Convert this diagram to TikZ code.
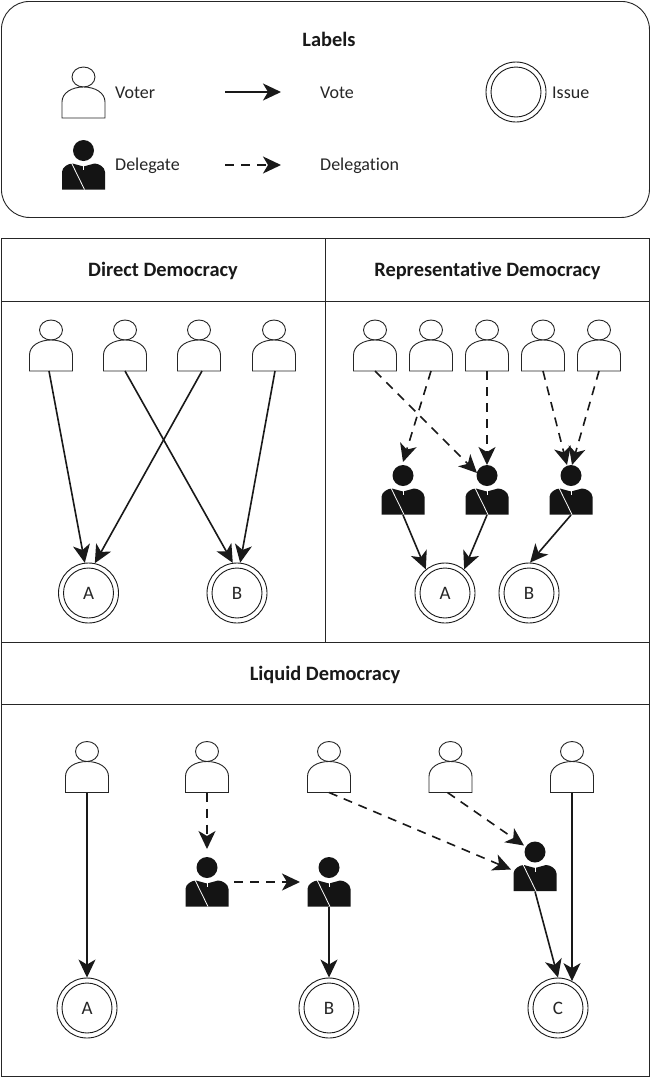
\documentclass[tikz,border=0pt]{standalone}
\usepackage{fontspec}
\setmainfont[Ligatures=NoCommon]{Carlito}
\usetikzlibrary{arrows.meta}
\tikzset{
  x=1pt,y=-1pt,
  frameline/.style={draw=black!85,line width=0.9pt},
  person/.style={minimum width=43pt,minimum height=51pt,inner sep=0pt,outer sep=0pt,anchor=north},
  leader/.style={person,minimum height=50pt},
  issue/.style={circle,draw=black!90,line width=0.9pt,minimum size=50pt,inner sep=0pt,
     font=\fontsize{19}{19}\selectfont,text=black!85},
  vote/.style={draw=black!90,line width=1.6pt,-{Stealth[length=18pt,width=17pt,inset=5pt]}},
  deleg/.style={vote,dash pattern=on 9pt off 7pt},
  txt/.style={font=\fontsize{18}{20}\selectfont,text=black!85,inner sep=0pt},
  head/.style={font=\bfseries\fontsize{20.4}{22}\selectfont,text=black!90,inner sep=0pt},
}
\newcommand{\voter}[3]{%
  \node[person] (#1) at (#2,#3) {};
  \begin{scope}[shift={(#2,#3)}]
    \draw[black!85,line width=0.9pt,fill=white] (0,10) ellipse [x radius=11.5,y radius=10];
    \draw[black!85,line width=0.9pt,fill=white] (-21.5,51) -- (-21.5,35) .. controls (-21.5,26) and (-12,20) .. (0,20)
      .. controls (12,20) and (21.5,26) .. (21.5,35) -- (21.5,51) -- cycle;
  \end{scope}}
\newcommand{\delegate}[3]{%
  \node[leader] (#1) at (#2,#3) {};
  \begin{scope}[shift={(#2,#3)}]
    \fill[black!92] (0,10.5) circle (10.5);
    \fill[black!92] (-21.5,49.5) -- (-21.5,32) .. controls (-21.5,27) and (-15,23.5) .. (-11,23.5)
      -- (0,26.5) -- (11,23.5) .. controls (15,23.5) and (21.5,27) .. (21.5,32) -- (21.5,49.5) -- cycle;
    \draw[white,line width=0.8pt] (-12,23) -- (1,49.5);
    \draw[white,line width=0.7pt] (0,24) -- (0,30);
  \end{scope}}
\newcommand{\issuenode}[4]{%
  \node[circle,draw=black!90,line width=0.9pt,minimum size=60pt,inner sep=0pt] (#1) at (#2,#3) {};
  \node[issue] (#1in) at (#1.center) {#4};}
\begin{document}
\begin{tikzpicture}
\useasboundingbox (0,0) rectangle (650,1077);
\fill[white] (0,0) rectangle (650,1077);
% frames
\node[frameline,rounded corners=28pt,minimum width=648pt,minimum height=216pt,inner sep=0pt,anchor=north west] (legend) at (1,1) {};
\node[frameline,minimum width=648pt,minimum height=838pt,inner sep=0pt,anchor=north west] (panel) at (1,238) {};
\coordinate (a1) at (1,301); \coordinate (a2) at (649,301);
\coordinate (b1) at (325,238); \coordinate (b2) at (325,642);
\coordinate (c1) at (1,642); \coordinate (c2) at (649,642);
\coordinate (d1) at (1,704); \coordinate (d2) at (649,704);
\draw[frameline] (a1) -- (a2) (b1) -- (b2) (c1) -- (c2) (d1) -- (d2);
% legend
\node[head] (tlabels) at (329,39.5) {Labels};
\voter{lv}{83.5}{67}
\delegate{ld}{83.5}{140}
\node[txt,anchor=west] (tvoter) at (115,93) {Voter};
\node[txt,anchor=west] (tdelegate) at (115,166) {Delegate};
\coordinate (lv1) at (225,92); \coordinate (lv2) at (281,92);
\coordinate (ld1) at (225,165); \coordinate (ld2) at (281,165);
\draw[vote] (lv1) -- (lv2);
\draw[deleg] (ld1) -- (ld2);
\node[txt,anchor=west] (tvote) at (320,93) {Vote};
\node[txt,anchor=west] (tdeleg) at (320,166) {Delegation};
\node[circle,draw=black!90,line width=0.9pt,minimum size=60pt,inner sep=0pt] (li) at (516,92) {};
\node[circle,draw=black!90,line width=0.9pt,minimum size=50pt,inner sep=0pt] (liin) at (516,92) {};
\node[txt,anchor=west] (tissue) at (552,93) {Issue};
% headings
\node[head] (tdirect) at (163,270.5) {Direct Democracy};
\node[head] (trep) at (487.5,270.5) {Representative Democracy};
\node[head] (tliquid) at (325,674.5) {Liquid Democracy};
% direct
\voter{da}{51}{320}\voter{db}{125}{320}\voter{dc}{199}{320}\voter{dd}{274}{320}
\issuenode{dia}{88.5}{593}{A}
\issuenode{dib}{237}{593}{B}
\draw[vote] ([xshift=-2pt]da.south) -- (dia.97);
\draw[vote] (db.south) -- (dib.98);
\draw[vote] ([xshift=3pt]dc.south) -- (dia.78);
\draw[vote] ([xshift=1pt]dd.south) -- (dib.84);
% representative
\voter{ra}{375}{320}\voter{rb}{431}{320}\voter{rc}{487}{320}\voter{rd}{543}{320}\voter{re}{599}{320}
\delegate{rx}{403}{465}\delegate{ry}{487}{465}\delegate{rz}{571}{465}
\issuenode{ria}{445}{593}{A}
\issuenode{rib}{529}{593}{B}
\draw[deleg] (ra.south) -- ([xshift=-10pt,yshift=-8pt]ry.north);
\draw[deleg] (rb.south) -- ([yshift=3pt]rx.north);
\draw[deleg] (rc.south) -- (ry.north);
\draw[deleg] (rd.south) -- ([xshift=-4pt]rz.north);
\draw[deleg] (re.south) -- ([xshift=1pt]rz.north);
\draw[vote] (rx.south) -- (ria.129);
\draw[vote] (ry.south) -- (ria.51);
\draw[vote] (rz.south) -- (rib.88);
% liquid
\voter{qa}{87}{741.5}\voter{qb}{207}{741.5}\voter{qc}{329}{741.5}\voter{qd}{450.5}{741.5}\voter{qe}{572}{741.5}
\delegate{qx}{207}{857}\delegate{qy}{329}{857}\delegate{qz}{535}{841.5}
\issuenode{qia}{87}{1008}{A}
\issuenode{qib}{329}{1008}{B}
\issuenode{qic}{558}{1008}{C}
\draw[vote] (qa.south) -- (qia.north);
\draw[deleg] (qb.south) -- ([yshift=8pt]qx.north);
\draw[deleg] ([xshift=27pt,yshift=25pt]qx.south) -- ([xshift=-29pt,yshift=25pt]qy.south);
\draw[vote] (qy.south) -- (qib.north);
\draw[deleg] (qc.south) -- ([xshift=-24pt,yshift=22pt]qz.south);
\draw[deleg] ([xshift=-3pt]qd.south) -- ([xshift=-11pt,yshift=-4pt]qz.north);
\draw[vote] (qz.south) -- (qic.north);
\draw[vote] (qe.south) -- (qe.south |- qic.62);
\end{tikzpicture}
\end{document}
